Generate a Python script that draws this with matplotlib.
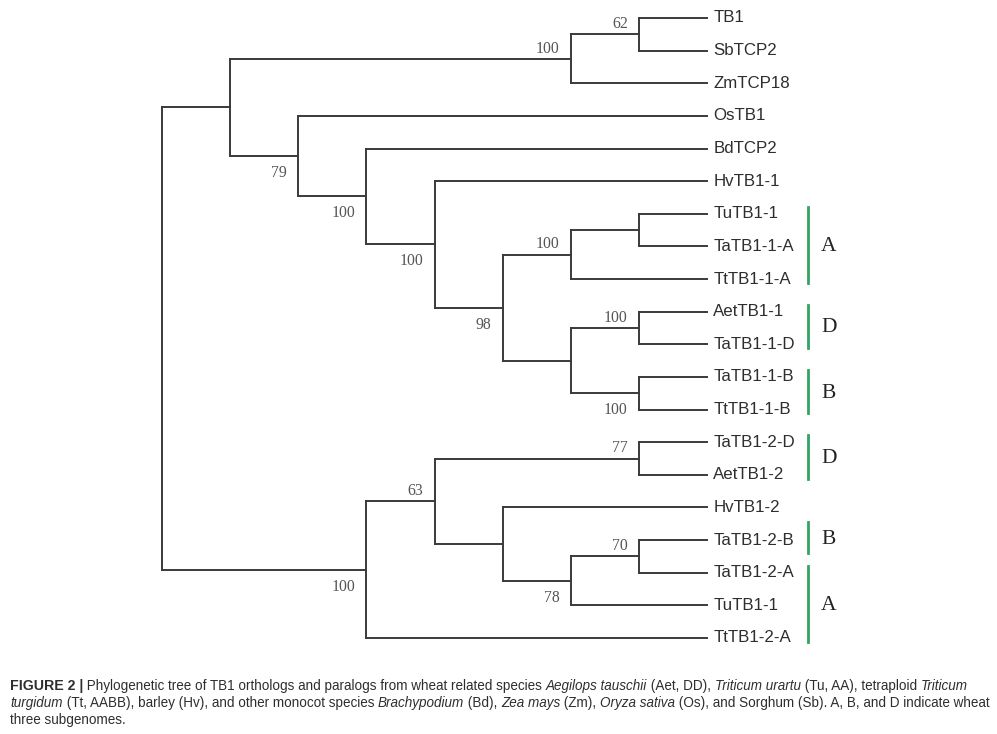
import matplotlib
matplotlib.use("Agg")
import matplotlib.pyplot as plt

# tree topology with bootstrap support values (newick)
TREE = ("((((TB1,SbTCP2)62,ZmTCP18)100,(OsTB1,(BdTCP2,(HvTB1-1,"
        "(((TuTB1-1,TaTB1-1-A),TtTB1-1-A)100,"
        "((AetTB1-1,TaTB1-1-D)100,(TaTB1-1-B,TtTB1-1-B)100))98)100)100)79),"
        "(((TaTB1-2-D,AetTB1-2)77,(HvTB1-2,((TaTB1-2-B,TaTB1-2-A)70,TuTB1-1)78))63,"
        "TtTB1-2-A)100);")

# subgenome brackets: letter, first leaf index, last leaf index
GROUP_LETTERS = ["A", "D", "B", "D", "B", "A"]
GROUP_FIRST = [6, 9, 11, 13, 16, 17]
GROUP_LAST = [8, 10, 12, 14, 16, 19]

CAPTION = [
    [("FIGURE 2 |", "bold"),
     (" Phylogenetic tree of TB1 orthologs and paralogs from wheat related species ", "normal"),
     ("Aegilops tauschii", "italic"), (" (Aet, DD), ", "normal"),
     ("Triticum urartu", "italic"), (" (Tu, AA), tetraploid ", "normal"),
     ("Triticum", "italic")],
    [("turgidum", "italic"),
     (" (Tt, AABB), barley (Hv), and other monocot species ", "normal"),
     ("Brachypodium", "italic"), (" (Bd), ", "normal"),
     ("Zea mays", "italic"), (" (Zm), ", "normal"),
     ("Oryza sativa", "italic"),
     (" (Os), and Sorghum (Sb). A, B, and D indicate wheat", "normal")],
    [("three subgenomes.", "normal")],
]

LINE_COLOR = "#3a3a3a"
TEXT_COLOR = "#2e2e2e"
SUPPORT_COLOR = "#555555"
GREEN = "#33a461"


def parse_newick(s):
    pos = 0

    def node():
        nonlocal pos
        n = {"children": [], "name": "", "support": ""}
        if s[pos] == "(":
            pos += 1
            n["children"].append(node())
            while s[pos] == ",":
                pos += 1
                n["children"].append(node())
            pos += 1  # ')'
        start = pos
        while s[pos] not in ",);":
            pos += 1
        tok = s[start:pos]
        if n["children"]:
            n["support"] = tok
        else:
            n["name"] = tok
        return n

    return node()


root = parse_newick(TREE)

leaves = []


def layout(n):
    # cladogram: leaves at depth 8, internal nodes one step left of the nearest child
    if not n["children"]:
        n["y"] = len(leaves)
        n["x"] = 8
        leaves.append(n)
        return
    for c in n["children"]:
        layout(c)
    n["x"] = min(c["x"] for c in n["children"]) - 1
    n["y"] = (n["children"][0]["y"] + n["children"][-1]["y"]) / 2.0


layout(root)

fig = plt.figure(figsize=(9.97, 7.34), dpi=100)
W, H = 997.0, 734.0
ax = fig.add_axes([162 / W, 1 - 638 / H, 545 / W, 620 / H])
ax.set_xlim(0, 8)
ax.set_ylim(len(leaves) - 1, 0)
ax.axis("off")


def draw(n):
    if not n["children"]:
        ax.annotate(n["name"], (n["x"], n["y"]), xytext=(4.5, 0), textcoords="offset points",
                    ha="left", va="center", fontsize=12.2, color=TEXT_COLOR,
                    family=["Liberation Sans", "DejaVu Sans"], annotation_clip=False)
        return
    ys = [c["y"] for c in n["children"]]
    ax.plot([n["x"], n["x"]], [min(ys), max(ys)], color=LINE_COLOR, lw=1.4,
            solid_capstyle="projecting", clip_on=False)
    for i, c in enumerate(n["children"]):
        ax.plot([n["x"], c["x"]], [c["y"], c["y"]], color=LINE_COLOR, lw=1.4,
                solid_capstyle="projecting", clip_on=False)
        if c["support"]:
            upper = i == 0
            ax.annotate(c["support"], (c["x"], c["y"]),
                        xytext=(-8, 4.5 if upper else -6.5), textcoords="offset points",
                        ha="right", va="baseline" if upper else "top",
                        fontsize=11.3, color=SUPPORT_COLOR,
                        family=["Liberation Serif", "DejaVu Serif"], annotation_clip=False)
        draw(c)


draw(root)

bar_x = 8 + 101 / 68.125
for letter, a, b in zip(GROUP_LETTERS, GROUP_FIRST, GROUP_LAST):
    pad_top, pad_bot = (0.55, 0.4) if a == b else (0.22, 0.12)
    y0, y1 = a - pad_top, b + pad_bot
    ax.plot([bar_x, bar_x], [y0, y1], color=GREEN, lw=2.0, clip_on=False)
    ax.annotate(letter, (bar_x, (y0 + y1) / 2), xytext=(15, -1), textcoords="offset points",
                ha="center", va="center", fontsize=15.5, color="#222222",
                family=["Liberation Serif", "DejaVu Serif"], annotation_clip=False)

# caption, drawn run by run so the bold and italic parts follow each other
renderer = fig.canvas.get_renderer()
baselines = [690, 707, 724]
for line, base in zip(CAPTION, baselines):
    x = 10.0
    for text, style in line:
        bold = style == "bold"
        t = fig.text(x / W, 1 - base / H, text, fontsize=10.2 if bold else 9.72,
                     color=TEXT_COLOR, family=["Liberation Sans", "DejaVu Sans"],
                     va="baseline", fontweight="bold" if bold else "normal",
                     fontstyle="italic" if style == "italic" else "normal")
        x += t.get_window_extent(renderer).width

fig.savefig("out.png", dpi=100)
